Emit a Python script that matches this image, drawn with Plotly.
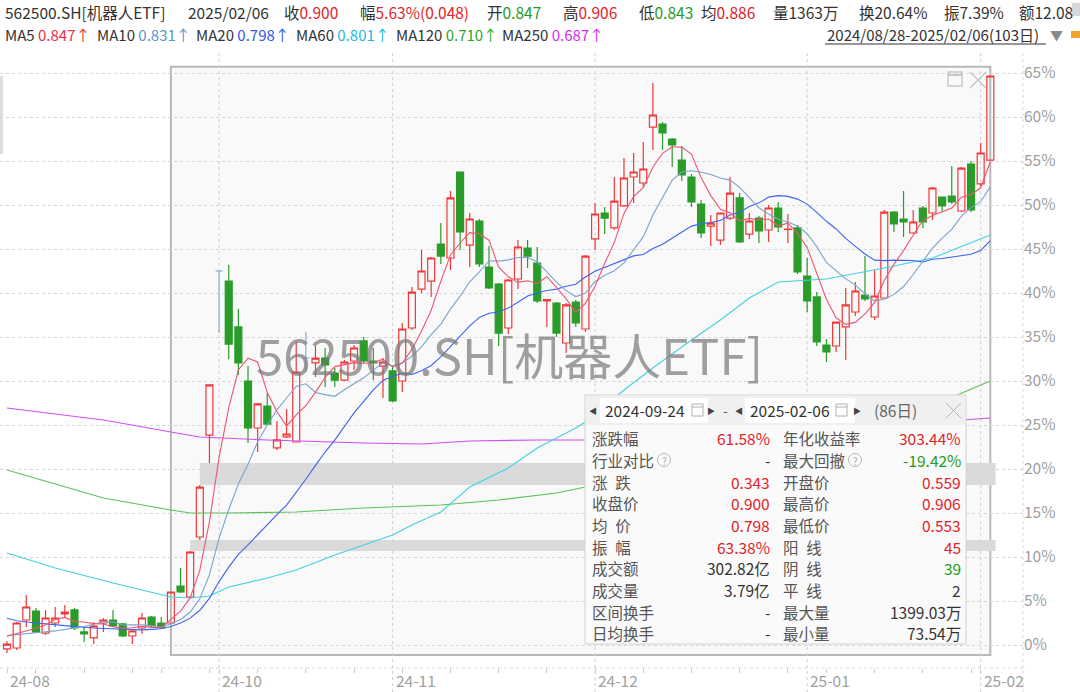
import datetime as dt
import pandas as pd
import plotly.graph_objects as go

# ---------------- data (% vs. base) ----------------
days_by_month = {
    (2024, 8): [28, 29, 30],
    (2024, 9): [2, 3, 4, 5, 6, 9, 10, 11, 12, 13, 18, 19, 20, 23, 24, 25, 26, 27, 30],
    (2024, 10): [8, 9, 10, 11, 14, 15, 16, 17, 18, 21, 22, 23, 24, 25, 28, 29, 30, 31],
    (2024, 11): [1, 4, 5, 6, 7, 8, 11, 12, 13, 14, 15, 18, 19, 20, 21, 22, 25, 26, 27, 28, 29],
    (2024, 12): [2, 3, 4, 5, 6, 9, 10, 11, 12, 13, 16, 17, 18, 19, 20, 23, 24, 25, 26, 27, 30, 31],
    (2025, 1): [2, 3, 6, 7, 8, 9, 10, 13, 14, 15, 16, 17, 20, 21, 22, 23, 24, 27],
    (2025, 2): [5, 6],
}
label_months = [(2024, 8), (2024, 10), (2024, 11), (2024, 12), (2025, 1), (2025, 2)]
interval_start = dt.date(2024, 9, 24)
gap_days = [dt.date(2024, 9, 26), dt.date(2024, 9, 27)]   # unfilled up-gaps after these days

open_pct = [
    -0.45, -0.34, 2.84, 3.86, 1.36, 2.50, 3.52, 3.98, 1.48, 0.80,
    2.50, 2.84, 2.39, 1.02, 1.93, 3.18, 2.50, 2.50, 6.70, 5.45,
    12.27, 23.86, 42.50, 41.36, 36.14, 30.00, 24.66, 27.16, 22.39, 23.64,
    23.07, 32.61, 32.05, 32.61, 30.91, 30.11, 32.27, 34.55, 32.27, 31.70,
    31.14, 30.00, 36.02, 40.45, 41.36, 45.57, 43.98, 53.75, 45.45, 48.18,
    42.95, 41.02, 36.02, 41.59, 45.11, 43.41, 39.09, 38.86, 34.32, 38.98,
    35.91, 46.14, 49.09, 47.39, 49.89, 53.18, 52.50, 58.86, 59.20, 57.50,
    55.11, 53.18, 50.11, 47.61, 46.02, 48.52, 50.80, 46.70, 48.52, 47.16,
    49.66, 47.22, 47.39, 41.93, 39.55, 34.09, 33.98, 36.14, 37.84, 39.77,
    37.27, 39.43, 49.20, 48.41, 46.82, 49.66, 49.09, 50.91, 51.02, 49.32,
    54.66, 52.39, 55.11]
close_pct = [
    0.11, 2.50, 4.32, 1.48, 3.07, 3.07, 3.75, 1.93, 1.25, 2.16,
    2.84, 2.16, 1.02, 1.59, 3.07, 2.16, 1.98, 6.02, 6.02, 10.57,
    17.95, 29.55, 42.50, 34.20, 32.05, 24.66, 27.39, 25.11, 23.30, 23.98,
    31.02, 32.61, 32.61, 31.82, 30.11, 32.16, 33.75, 32.27, 32.05, 32.16,
    27.73, 35.91, 40.11, 42.50, 43.98, 44.20, 50.80, 46.93, 48.41, 43.30,
    40.57, 35.45, 41.48, 45.23, 44.20, 39.09, 39.26, 35.45, 38.64, 36.59,
    44.20, 48.98, 48.52, 50.45, 53.07, 53.75, 54.09, 60.23, 58.18, 56.82,
    53.41, 50.34, 46.82, 47.95, 49.09, 51.36, 45.80, 48.18, 47.05, 49.66,
    47.50, 47.27, 42.39, 39.09, 34.43, 33.30, 36.70, 38.64, 40.23, 39.32,
    39.66, 49.20, 47.84, 48.07, 48.07, 48.07, 51.93, 49.89, 50.34, 54.20,
    49.43, 55.91, 64.66]
high_pct = [
    0.45, 2.61, 5.68, 4.20, 3.98, 4.32, 4.55, 4.20, 2.05, 2.61,
    3.07, 3.98, 2.50, 1.70, 3.64, 3.30, 3.18, 6.02, 8.75, 10.68,
    18.18, 29.55, 42.50, 43.18, 38.18, 31.70, 27.50, 28.64, 25.45, 26.82,
    34.43, 35.57, 33.98, 33.75, 31.48, 32.39, 34.09, 35.00, 33.75, 32.61,
    31.82, 36.59, 40.68, 44.89, 44.09, 47.95, 51.59, 53.75, 49.09, 48.41,
    45.34, 41.14, 41.59, 46.02, 46.02, 45.23, 39.26, 38.98, 38.86, 39.20,
    44.32, 50.23, 49.77, 53.18, 55.34, 55.91, 57.16, 63.86, 59.43, 57.61,
    56.70, 53.52, 50.57, 48.86, 49.09, 53.18, 51.36, 49.09, 48.75, 50.00,
    50.34, 48.98, 47.73, 43.98, 40.11, 34.77, 36.70, 40.57, 41.25, 44.20,
    42.61, 49.43, 49.32, 51.59, 49.43, 49.89, 52.05, 50.91, 54.43, 54.32,
    55.00, 57.05, 64.66]
low_pct = [
    -0.91, -0.57, 2.05, 1.36, 1.14, 2.05, 3.18, 1.70, 0.34, 0.11,
    1.48, 2.05, 0.91, 0.11, 1.25, 2.05, 1.82, 2.50, 5.91, 5.45,
    11.93, 20.68, 35.45, 32.50, 30.68, 22.95, 21.93, 25.00, 22.16, 23.52,
    23.07, 31.02, 30.45, 29.32, 29.32, 30.00, 31.25, 32.05, 30.11, 28.07,
    27.61, 28.75, 35.80, 40.00, 39.55, 43.30, 42.61, 44.89, 42.95, 42.95,
    40.45, 33.98, 35.34, 40.45, 42.84, 38.86, 36.14, 35.00, 33.18, 36.14,
    35.57, 44.89, 46.70, 47.16, 49.77, 50.23, 52.05, 56.25, 56.25, 54.32,
    52.73, 49.77, 46.25, 45.34, 45.45, 48.30, 45.68, 46.14, 45.68, 45.80,
    46.93, 45.68, 42.16, 37.84, 33.98, 32.16, 33.30, 32.39, 37.39, 39.09,
    36.93, 39.43, 46.93, 46.36, 46.70, 47.39, 48.30, 49.32, 50.11, 49.20,
    49.20, 52.16, 55.11]

# moving averages: early values (history before 08/28 not shown)
ma5_head = [1.0, 1.3, 1.6, 1.9]
ma10_head = [1.06, 1.15, 1.25, 1.4, 1.5, 1.6, 1.8, 1.95, 2.1]
ma20_head = [3.03, 2.75, 2.62, 2.50, 2.42, 2.33, 2.20, 2.12, 2.00, 1.93,
             1.88, 1.83, 1.78, 1.72, 1.72, 1.78, 1.85, 2.10, 2.50]
ma60_idx = [0, 5, 11, 17, 19, 21, 23, 27, 30, 34, 40, 42, 45, 48, 52, 55, 59, 60,
            64, 67, 71, 74, 77, 80, 85, 91, 96, 102]
ma60_val = [10.45, 8.75, 7.05, 5.45, 5.34, 5.57, 6.59, 7.61, 8.52, 10.23, 12.5, 13.64,
            15.11, 17.95, 20.11, 22.39, 24.66, 25.34, 28.98, 31.48, 34.66, 36.93, 39.43,
            41.25, 41.59, 42.84, 43.98, 46.6]
ma120_idx = [0, 10, 17, 19, 23, 30, 37, 45, 51, 57, 60, 72, 82, 93, 99, 102]
ma120_val = [19.89, 16.70, 15.34, 15.0, 15.0, 15.11, 15.57, 15.91, 16.48, 17.27, 17.95,
             19.9, 22.2, 25.6, 28.6, 30.0]
ma250_idx = [0, 10, 17, 20, 27, 37, 43, 48, 55, 60, 82, 100, 102]
ma250_val = [26.93, 25.57, 24.20, 23.64, 23.30, 22.95, 22.84, 23.18, 23.30, 23.30, 24.2,
             25.57, 25.80]

y_ticks = [0, 5, 10, 15, 20, 25, 30, 35, 40, 45, 50, 55, 60, 65]

# ---------------- derived ----------------
dates = [dt.date(y, m, d) for (y, m), ds in days_by_month.items() for d in ds]
xi = list(range(len(dates)))
n = len(dates)

cs = pd.Series(close_pct)
ma5 = cs.rolling(5).mean().tolist()
ma10 = cs.rolling(10).mean().tolist()
ma20 = cs.rolling(20).mean().tolist()
ma5[:len(ma5_head)] = ma5_head
ma10[:len(ma10_head)] = ma10_head
ma20[:len(ma20_head)] = ma20_head

month_start = {}
for i, d in enumerate(dates):
    month_start.setdefault((d.year, d.month), i)
week_idx = [i for i in xi if i == 0 or dates[i].isocalendar()[1] != dates[i - 1].isocalendar()[1]]

UP = '#f03838'
DOWN = '#2a9c2a'
FLAT = '#8fb4d6'
FONT = 'Noto Sans CJK SC, Noto Sans, sans-serif'

# pixel helpers for overlay widgets (plot area: x 0-1023, y 50-668)
PW, PT, PB = 1023.0, 50.0, 668.0
def xp(px):
    return px / PW
def yp(py):
    return (PB - py) / (PB - PT)

fig = go.Figure()
shapes = []
ann = []

# selection interval box
s_idx = dates.index(interval_start)
shapes.append(dict(type='rect', xref='x', yref='paper', x0=s_idx, x1=n - 1, y0=yp(655), y1=yp(66.7),
                   line=dict(color='#b8b8b8', width=2), fillcolor='rgba(0,0,0,0.025)', layer='below'))
# unfilled gap bands (from the day's high up to the next day's low)
for gd in gap_days:
    g = dates.index(gd)
    shapes.append(dict(type='rect', xref='x', yref='y', x0=g, x1=n - 1 + 0.55,
                       y0=high_pct[g], y1=low_pct[g + 1],
                       line=dict(width=0), fillcolor='#dadada', layer='below'))
# month grid lines + labels
for ym in label_months:
    i = month_start[ym]
    if i > 0:
        shapes.append(dict(type='line', xref='x', yref='paper', x0=i, x1=i, y0=yp(692), y1=1,
                           line=dict(color='#cfcfcf', width=1, dash='dot'), layer='below'))
    ann.append(dict(x=i, y=yp(680), xref='x', yref='paper', text=f"{ym[0] % 100:02d}-{ym[1]:02d}",
                    showarrow=False, xanchor='left', yanchor='middle', xshift=1,
                    font=dict(size=15.5, color='#a0a0a0', family=FONT)))
# frame lines
shapes.append(dict(type='line', xref='paper', yref='paper', x0=0, x1=xp(1027), y0=0, y1=0,
                   line=dict(color='#d6d6d6', width=1, dash='dot'), layer='below'))
shapes.append(dict(type='line', xref='paper', yref='paper', x0=1, x1=1, y0=yp(692), y1=1,
                   line=dict(color='#d6d6d6', width=1, dash='dot'), layer='below'))
# left scroll marker
shapes.append(dict(type='rect', xref='paper', yref='paper', x0=0, x1=xp(3), y0=yp(154), y1=yp(76),
                   line=dict(width=0), fillcolor='#dedede', layer='below'))

# ---------------- candles ----------------
mask = [o != c for o, c in zip(open_pct, close_pct)]
fig.add_trace(go.Candlestick(
    x=[x for x, m in zip(xi, mask) if m],
    open=[v for v, m in zip(open_pct, mask) if m],
    high=[v for v, m in zip(high_pct, mask) if m],
    low=[v for v, m in zip(low_pct, mask) if m],
    close=[v for v, m in zip(close_pct, mask) if m],
    increasing=dict(line=dict(color=UP, width=1.2), fillcolor='rgba(0,0,0,0)'),
    decreasing=dict(line=dict(color=DOWN, width=1.2), fillcolor=DOWN),
    whiskerwidth=0, hoverinfo='skip', showlegend=False))
fx, fy = [], []
for i, m in enumerate(mask):
    if not m:
        fx += [i, i, None, i - 0.36, i + 0.36, None]
        fy += [low_pct[i], high_pct[i], None, open_pct[i], open_pct[i], None]
fig.add_trace(go.Scatter(x=fx, y=fy, mode='lines', line=dict(color=FLAT, width=1.3),
                         hoverinfo='skip', showlegend=False))

# ---------------- moving averages ----------------
for xs, ys, c in [
    (ma250_idx, ma250_val, '#d24ef2'),
    (ma120_idx, ma120_val, '#5cc25c'),
    (ma60_idx, ma60_val, '#45cfe4'),
    (xi, ma20, '#3d63f0'),
    (xi, ma10, '#7ba3cc'),
    (xi, ma5, '#ec5674'),
]:
    fig.add_trace(go.Scatter(x=xs, y=ys, mode='lines', line=dict(color=c, width=1.1),
                             hoverinfo='skip', showlegend=False))

# ---------------- selection box icons ----------------
shapes.append(dict(type='rect', xref='paper', yref='paper', x0=xp(948), x1=xp(962), y0=yp(86), y1=yp(72),
                   line=dict(color='#c8c8c8', width=1.5), layer='above'))
shapes.append(dict(type='line', xref='paper', yref='paper', x0=xp(948), x1=xp(962), y0=yp(75), y1=yp(75),
                   line=dict(color='#c8c8c8', width=2), layer='above'))
for a, b in [((970, 72), (986, 88)), ((986, 72), (970, 88))]:
    shapes.append(dict(type='line', xref='paper', yref='paper', x0=xp(a[0]), y0=yp(a[1]),
                       x1=xp(b[0]), y1=yp(b[1]), line=dict(color='#c8c8c8', width=1.5), layer='above'))

# watermark
ann.append(dict(x=xp(509), y=yp(353), xref='paper', yref='paper', text='562500.SH[机器人ETF]',
                showarrow=False, xanchor='center', yanchor='middle',
                font=dict(size=49, color='rgba(120,120,120,0.7)', family=FONT)))

# ---------------- info box ----------------
BX0, BX1, BY0, BY1 = 585, 966, 395, 644
shapes.append(dict(type='rect', xref='paper', yref='paper', x0=xp(BX0), x1=xp(BX1), y0=yp(BY1), y1=yp(BY0),
                   line=dict(color='#d2d2d2', width=1), fillcolor='#fafafa', layer='above'))
shapes.append(dict(type='rect', xref='paper', yref='paper', x0=xp(BX0 + 1), x1=xp(BX1 - 1), y0=yp(425), y1=yp(BY0 + 1),
                   line=dict(width=0), fillcolor='#f0f0f0', layer='above'))
for a, b in [(600, 708), (745, 855)]:
    shapes.append(dict(type='rect', xref='paper', yref='paper', x0=xp(a), x1=xp(b), y0=yp(423), y1=yp(398),
                       line=dict(width=0), fillcolor='#ffffff', layer='above'))
for a in [692, 836]:
    shapes.append(dict(type='rect', xref='paper', yref='paper', x0=xp(a), x1=xp(a + 11), y0=yp(416), y1=yp(404),
                       line=dict(color='#b0b0b0', width=1), layer='above'))
    shapes.append(dict(type='line', xref='paper', yref='paper', x0=xp(a), x1=xp(a + 11), y0=yp(407), y1=yp(407),
                       line=dict(color='#b0b0b0', width=1), layer='above'))
for a, b in [((946, 403), (961, 418)), ((961, 403), (946, 418))]:
    shapes.append(dict(type='line', xref='paper', yref='paper', x0=xp(a[0]), y0=yp(a[1]),
                       x1=xp(b[0]), y1=yp(b[1]), line=dict(color='#b4b4b4', width=1), layer='above'))

def txt(x, y, s, color='#333333', size=15.5, anchor='left'):
    ann.append(dict(x=xp(x), y=yp(y), xref='paper', yref='paper', text=s, showarrow=False,
                    xanchor=anchor, yanchor='middle', font=dict(size=size, color=color, family=FONT)))

def col(s, c):
    return f"<span style='color:{c}'>{s}</span>"

HY = 410.5
txt(593, HY, '◀', '#444444', 8, 'center')
txt(603, HY, '2024-09-24', '#333333', 15.5)
txt(711, HY, '▶', '#444444', 8, 'center')
txt(725, HY, '-', '#666666', 14, 'center')
txt(739, HY, '◀', '#444444', 8, 'center')
txt(748, HY, '2025-02-06', '#333333', 15.5)
txt(857, HY, '▶', '#444444', 8, 'center')
txt(872, HY, '(86日)', '#666666', 15.5)

RED, GRN, DRK, LBL = '#e02428', '#1f9a1f', '#333333', '#555555'
rows = [
    ('涨跌幅', '61.58%', RED, '年化收益率', '303.44%', RED),
    ('行业对比', '-', DRK, '最大回撤', '-19.42%', GRN),
    ('涨\u2002跌', '0.343', RED, '开盘价', '0.559', RED),
    ('收盘价', '0.900', RED, '最高价', '0.906', RED),
    ('均\u2002价', '0.798', RED, '最低价', '0.553', RED),
    ('振\u2002幅', '63.38%', RED, '阳\u2002线', '45', RED),
    ('成交额', '302.82亿', DRK, '阴\u2002线', '39', GRN),
    ('成交量', '3.79亿', DRK, '平\u2002线', '2', DRK),
    ('区间换手', '-', DRK, '最大量', '1399.03万', DRK),
    ('日均换手', '-', DRK, '最小量', '73.54万', DRK),
]
for k, (l1, v1, c1, l2, v2, c2) in enumerate(rows):
    ry = 438.3 + 21.68 * k
    txt(590, ry, l1, LBL)
    txt(772, ry, v1, c1, anchor='right')
    txt(781, ry, l2, LBL)
    txt(963, ry, v2, c2, anchor='right')
for cx in [664, 855]:
    shapes.append(dict(type='circle', xref='paper', yref='paper', x0=xp(cx - 6.5), x1=xp(cx + 6.5),
                       y0=yp(460 + 6.5), y1=yp(460 - 6.5), line=dict(color='#b8b8b8', width=1), layer='above'))
    txt(cx, 460, '?', '#aaaaaa', 10, 'center')

# ---------------- header ----------------
L1, L2 = 12, 34
HS = 15.5
txt(3, L1, '562500.SH[机器人ETF]', DRK, HS)
txt(186, L1, '2025/02/06', DRK, HS)
for lx, lab, val, c in [
    (282, '收', '0.900', RED), (358, '幅', '5.63%(0.048)', RED),
    (485, '开', '0.847', GRN), (561, '高', '0.906', RED),
    (637, '低', '0.843', GRN), (699, '均', '0.886', RED),
]:
    txt(lx, L1, lab + col(val, c), DRK, HS)
txt(771, L1, '量1363万', DRK, HS)
txt(857, L1, '换20.64%', DRK, HS)
txt(942, L1, '振7.39%', DRK, HS)
txt(1017, L1, '额12.08', DRK, HS)
shapes.append(dict(type='rect', xref='paper', yref='paper', x0=xp(1072), x1=xp(1082), y0=yp(16), y1=yp(3),
                   line=dict(width=0), fillcolor='rgba(190,190,190,0.6)', layer='above'))

for lx, lab, val, c in [
    (3, 'MA5', '0.847↑', '#e8303c'), (95, 'MA10', '0.831↑', '#5b93cf'),
    (194, 'MA20', '0.798↑', '#2f58e6'), (294, 'MA60', '0.801↑', '#1fb9da'),
    (394, 'MA120', '0.710↑', '#2aa52a'), (500, 'MA250', '0.687↑', '#d22ef0'),
]:
    txt(lx, L2, lab + ' ' + col(val, c), DRK, 15)
txt(825, L2, '2024/08/28-2025/02/06(103日)', DRK, 15)
shapes.append(dict(type='line', xref='paper', yref='paper', x0=xp(825), x1=xp(1046), y0=yp(44), y1=yp(44),
                   line=dict(color='#333333', width=1), layer='above'))
txt(1048, L2, '▼', '#888888', 13)
shapes.append(dict(type='rect', xref='paper', yref='paper', x0=xp(1071), x1=xp(1084), y0=yp(38), y1=yp(31),
                   line=dict(width=0), fillcolor='#f2a42a', layer='above'))

fig.update_layout(
    width=1080, height=692, autosize=False,
    margin=dict(l=0, r=57, t=50, b=24),
    paper_bgcolor='white', plot_bgcolor='white',
    boxgap=0.15, boxgroupgap=0.15,
    shapes=shapes, annotations=ann, showlegend=False,
    xaxis=dict(range=[-0.726, 105.39], tickmode='array', tickvals=week_idx, ticks='outside', ticklen=4,
               tickcolor='#cccccc', showticklabels=False, showgrid=False, zeroline=False, showline=False,
               rangeslider=dict(visible=False), fixedrange=True),
    yaxis=dict(side='right', range=[-2.614, 67.614], tickmode='array', tickvals=y_ticks,
               ticktext=[f'{v}%' for v in y_ticks], showgrid=True, gridcolor='#d6d6d6', griddash='dot',
               gridwidth=1, zeroline=False, showline=False, ticks='',
               tickfont=dict(size=15.5, color='#a0a0a0', family=FONT), fixedrange=True),
)

fig.write_html('out.html', config={'displayModeBar': False},
               post_script="document.body.style.margin='0';document.body.style.overflow='hidden';")
